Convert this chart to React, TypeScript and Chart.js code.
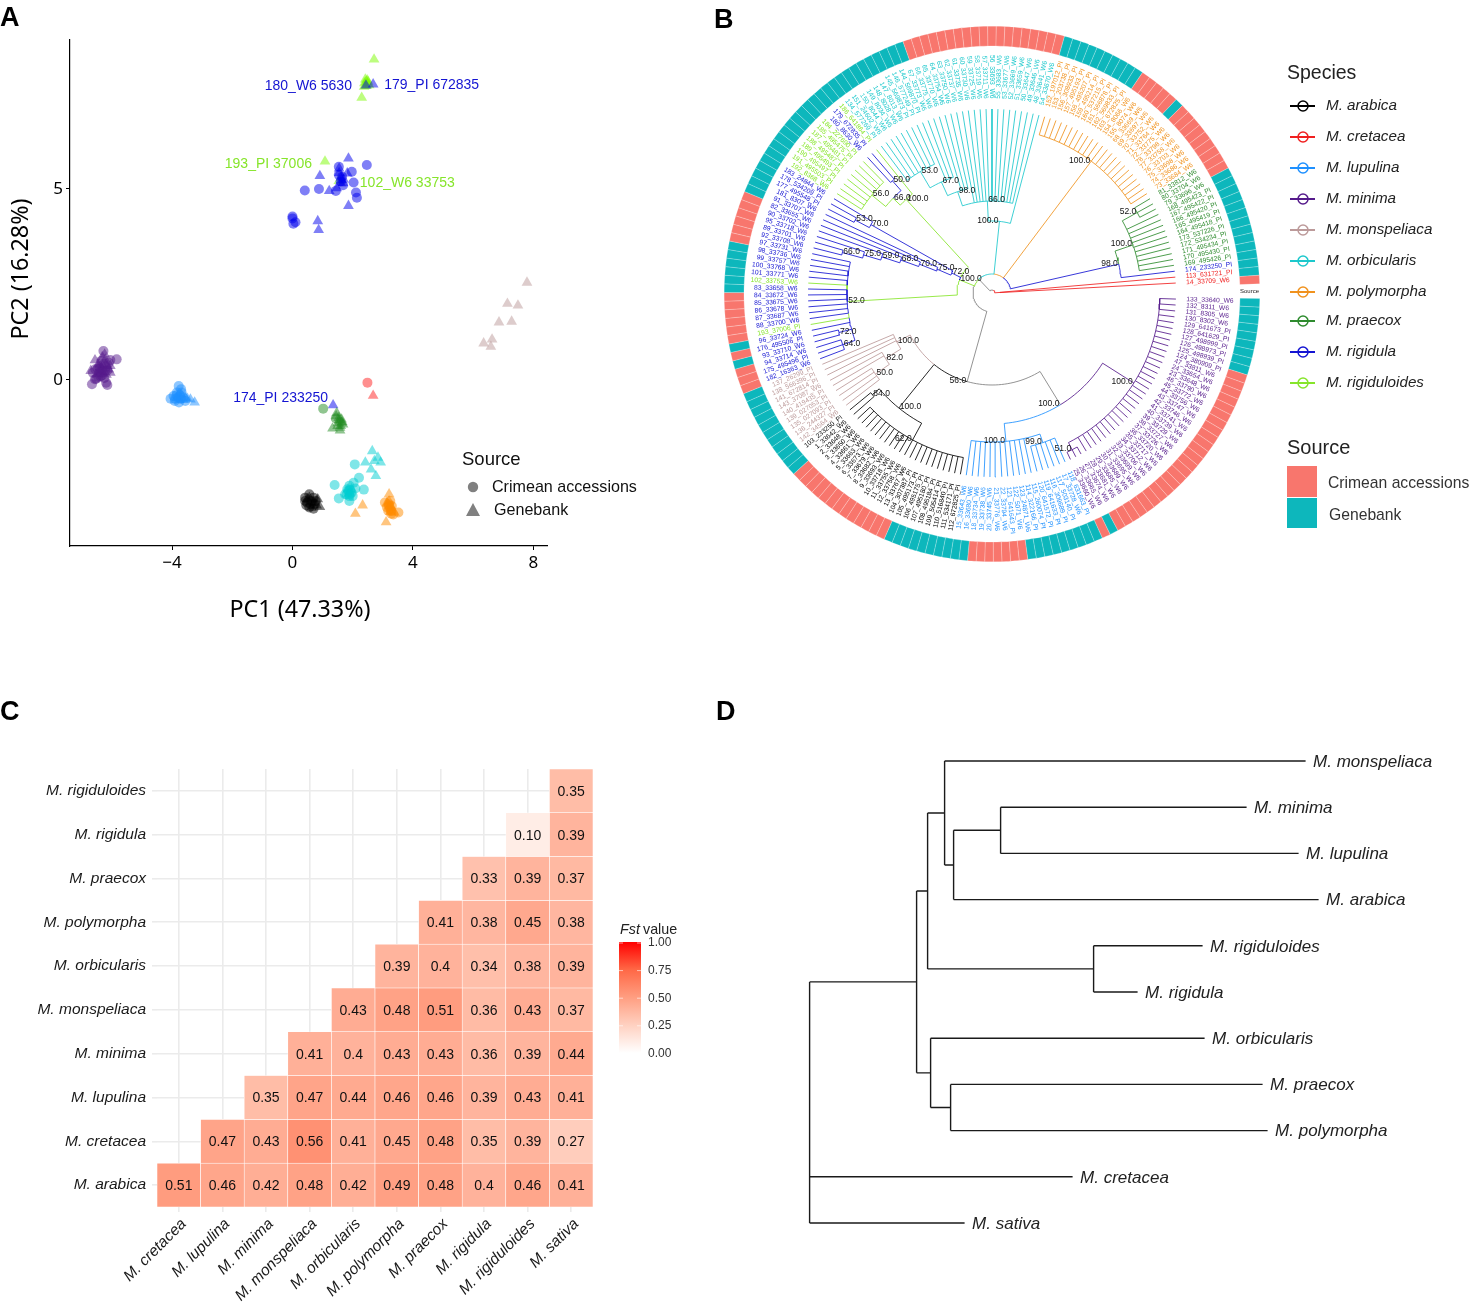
import React, { useEffect, useRef } from "react";
import { Chart, registerables } from "chart.js";

Chart.register(...registerables);

/* ---------- colours ---------- */
const BLACK = "#000000", RED = "#F02020", DODGER = "#1E90FF", PURPLE = "#551A8B", ROSY = "#BC9A9A";
const CYAN = "#1CC8CC", ORANGE = "#F0921E", GREEN = "#2E8B2E", BLUE = "#1414D2", LIME = "#86E52A", GRAY = "#808080";
const SALMON = "#F8766D", TEAL = "#0DB7BC";

/* ---------- panel A data (PC1, PC2) ---------- */
const arabicaCircles = [[.56,-2.99],[.42,-3.08],[.70,-3.08],[.49,-3.21],[.63,-3.17],[.74,-3.25],[.56,-3.34],[.46,-3.28],[.70,-3.37],[.60,-3.25],[.42,-3.17],[.77,-3.17]];
const arabicaTriangles = [[.84,-3.12],[.91,-3.32],[.56,-3.08],[.70,-3.21],[.63,-3.34],[.49,-3.12],[.80,-3.28]];
const cretaceaCircles = [[2.49,-.07]];
const cretaceaTriangles = [[2.68,-.41]];
const lupulinaCircles = [[-3.78,-.16],[-3.70,-.24],[-3.84,-.33],[-4.05,-.49],[-3.91,-.55],[-3.77,-.59],[-3.63,-.46],[-3.73,-.40],[-3.95,-.42],[-3.56,-.55],[-3.80,-.45],[-3.72,-.50],[-3.85,-.40],[-3.68,-.33],[-3.90,-.50]];
const lupulinaTriangles = [[-3.70,-.38],[-3.49,-.49],[-3.39,-.51],[-3.25,-.59],[-3.84,-.46],[-3.62,-.52],[-3.55,-.47],[-3.75,-.52]];
const minimaCircles = [[-6.28,.76],[-5.84,.54],[-6.05,.52],[-6.66,-.11],[-6.15,-.13],[-6.19,-.07],[-6.56,.02],[-6.38,.10],[-6.63,.19],[-6.47,.30],[-6.28,.41],[-6.10,.45],[-6.22,.24],[-6.35,.50],[-6.52,.03],[-6.42,.21],[-6.30,.25],[-6.40,.30],[-6.20,.35],[-6.33,.12],[-6.45,.08],[-6.25,.05],[-6.15,.25],[-6.55,.28]];
const minimaTriangles = [[-6.56,.52],[-6.24,.67],[-6.70,.24],[-6.05,.19],[-6.35,.32],[-6.22,.54],[-6.42,.41],[-6.15,.37],[-6.28,.15],[-6.05,.37],[-6.49,.15],[-6.32,.60],[-6.38,.22],[-6.18,.14],[-6.30,.38],[-6.46,.40],[-6.10,.28]];
const monspeliacaTriangles = [[7.79,2.55],[7.14,2.0],[7.49,1.95],[6.86,1.51],[7.28,1.53],[6.35,.96],[6.63,1.06],[6.59,.87]];
const orbicularisCircles = [[2.07,-2.21],[1.40,-2.75],[2.21,-2.56],[2.03,-2.69],[2.37,-2.87],[1.54,-3.10],[1.89,-3.17],[1.82,-2.86],[1.96,-2.95],[1.89,-2.77],[1.75,-2.99],[2.0,-3.04],[2.09,-2.84],[1.89,-3.04],[1.85,-2.9],[1.92,-2.88],[1.8,-3.0],[1.9,-3.0]];
const orbicularisTriangles = [[2.65,-1.86],[2.84,-2.03],[2.42,-2.16],[2.93,-2.16],[2.61,-2.34],[2.77,-2.51],[2.72,-2.12],[1.96,-2.86],[1.86,-2.99],[1.9,-2.95],[1.85,-2.85]];
const polymorphaCircles = [[3.52,-3.47],[3.07,-3.21],[3.21,-3.30],[3.28,-3.43],[3.14,-3.34],[3.35,-3.52],[3.25,-3.17],[3.2,-3.25],[3.25,-3.38],[3.3,-3.3],[3.18,-3.42],[3.28,-3.5]];
const polymorphaTriangles = [[3.21,-2.99],[2.33,-3.28],[2.09,-3.50],[3.11,-3.72],[3.21,-3.17],[3.28,-3.34],[3.14,-3.21],[3.39,-3.47],[3.22,-3.3],[3.26,-3.45]];
const praecoxCircles = [[1.02,-.75],[1.44,-1.01]];
const praecoxTriangles = [[1.47,-.86],[1.54,-.99],[1.63,-1.12],[1.33,-1.27],[1.58,-1.32],[1.51,-1.13],[1.63,-1.03],[1.68,-1.16],[1.55,-1.05],[1.6,-1.2],[1.5,-1.2],[1.58,-1.25],[1.45,-.95],[1.65,-1.1]];
const rigidulaCircles = [[2.47,5.63],[1.97,5.45],[2.03,5.17],[.41,4.96],[.88,5.0],[1.44,4.95],[2.11,4.91],[2.14,4.77],[1.54,5.58],[1.54,5.37],[1.68,5.1],[0,4.28],[0,4.23],[.1,4.13],[.03,4.09],[1.6,5.2],[1.65,5.32]];
const rigidulaTriangles = [[2.68,7.74],[2.44,7.71],[1.86,5.80],[.91,5.34],[1.22,4.95],[1.86,4.56],[.84,4.16],[.87,3.93],[1.55,5.54],[1.63,5.24],[1.68,5.15],[1.82,5.41],[1.47,5.02],[1.35,-.66],[1.62,5.3],[1.6,5.15],[1.7,5.25],[1.55,5.42]];
const rigiduloidesTriangles = [[2.71,8.39],[2.42,7.87],[2.47,7.71],[2.51,7.81],[2.39,7.77],[2.30,7.39],[1.08,5.72],[1.54,5.21],[2.45,7.8],[2.5,7.75],[2.42,7.7],[2.55,7.72],[2.48,7.85],[2.38,7.68]];
const pointLabels: [string, number, number, number, number, string, CanvasTextAlign][] = [
  ["180_W6 5630", 2.44, 7.71, -14, 1, BLUE, "right"],
  ["179_PI 672835", 2.68, 7.74, 11, 1, BLUE, "left"],
  ["193_PI 37006", 1.08, 5.72, -13, 3, LIME, "right"],
  ["102_W6 33753", 1.54, 5.21, 21, 2, LIME, "left"],
  ["174_PI 233250", 1.35, -.66, -5, -7, BLUE, "right"],
];

/* ---------- panel B data ---------- */
const cretaceaTips = ["14_33709_W6", "113_631721_PI"];
const rigidulaOutlier = ["174_233250_PI"];
const praecoxTips = ["169_495426_PI","170_495430_PI","171_495434_PI","172_534234_PI","173_537226_PI","164_495418_PI","165_495419_PI","166_495420_PI","167_495422_PI","168_495423_PI","79_33696_W6","80_33704_W6","81_33812_W6"];
const polymorphaTips = ["73_33684_W6","74_33686_W6","75_33698_W6","76_33703_W6","77_33758_W6","78_33798_W6","72_33775_W6","71_33764_W6","70_33752_W6","69_33697_W6","68_33669_W6","155_8074_W6","154_8066_W6","163_672825_PI","162_569833_PI","161_566878_PI","160_537215_PI","159_495214_PI","158_495207_PI","157_495193_PI","156_308933_PI","153_203738_PI","152_197012_PI"];
const orbicularisTips = ["54_33670_W6","48_33641_W6","49_33646_W6","50_33647_W6","51_33659_W6","52_33669_W6","53_33677_W6","55_33683_W6","56_33693_W6","57_33711_W6","58_33719_W6","59_33725_W6","60_33730_W6","61_33735_W6","62_33737_W6","63_33750_W6","64_33754_W6","65_33770_W6","66_33775_W6","67_33773_W6","144_569870_PI","146_577249_PI","145_569873_PI","147_8013_W6","148_8028_W6","149_8034_W6","150_8044_W6","151_24602_W6","134_577269_PI"];
const rigiduloidesFirst = ["186_641864_PI"];
const rigidulaPair = ["179_672835_PI","180_8630_W6"];
const rigiduloidesRest = ["184_227690_PI","185_495475_PI","187_495481_PI","188_495487_PI","189_495493_PI","190_495497_PI","191_495503_PI","192_8368_W6"];
const rigidulaA = ["183_24844_W6","178_534209_PI","177_495548_PI","181_8307_W6","91_33707_W6","82_33655_W6","90_33702_W6","95_33718_W6","89_33701_W6","92_33708_W6","97_33731_W6","98_33736_W6","99_33757_W6","100_33768_W6","101_33771_W6"];
const rigiduloidesB = ["102_33753_W6"];
const rigidulaB = ["83_33658_W6","84_33672_W6","85_33675_W6","86_33678_W6","87_33687_W6","88_33700_W6"];
const rigiduloidesC = ["193_37006_PI"];
const rigidulaC = ["96_33724_W6","176_495506_PI","93_33710_W6","94_33714_W6","175_495496_PI","182_16363_W6"];
const monspeliacaTips = ["137_26299_PI","138_566396_PI","141_672814_PI","143_37087_W6","140_419435_PI","139_027053_PI","135_027093_PI","136_244327_PI","142_34564_W6"];
const arabicaTips = ["103_233250_PI","1_33642_W6","2_33648_W6","3_33650_W6","4_33661_W6","5_33663_W6","6_33673_W6","7_33679_W6","8_33682_W6","9_33693_W6","10_33718_W6","11_33755_W6","12_33758_W6","13_33767_W6","104_307387_PI","105_495173_PI","106_495175_PI","107_495180_PI","108_495184_PI","109_505414_PI","110_516840_PI","111_534171_PI","112_672825_PI"];
const lupulinaTips = ["15_33643_W6","16_33680_W6","18_33734_W6","19_33738_W6","20_33745_W6","21_33776_W6","22_33794_W6","121_641643_PI","122_5071_W6","123_24871_W6","114_322166_PI","115_260074_PI","120_641572_PI","119_641633_PI","116_309689_PI","117_503140_PI","17_33728_W6","118_631663_PI"];
const minimaTips = ["25_33660_W6","26_33665_W6","27_33674_W6","28_33681_W6","29_33685_W6","30_33689_W6","31_33695_W6","32_33699_W6","33_33706_W6","34_33712_W6","35_33717_W6","36_33720_W6","37_33726_W6","38_33727_W6","39_33729_W6","40_33739_W6","41_33741_W6","42_33746_W6","43_33747_W6","44_33756_W6","45_33772_W6","46_33790_W6","23_33648_W6","24_33654_W6","47_33811_W6","124_380909_PI","125_498939_PI","126_498973_PI","127_498999_PI","128_641629_PI","129_641673_PI","130_8302_W6","131_8305_W6","132_8311_W6","133_33640_W6"];
const tipGroups: [string, string[]][] = [
  [RED, cretaceaTips],[BLUE, rigidulaOutlier],[GREEN, praecoxTips],[ORANGE, polymorphaTips],[CYAN, orbicularisTips],
  [LIME, rigiduloidesFirst],[BLUE, rigidulaPair],[LIME, rigiduloidesRest],[BLUE, rigidulaA],[LIME, rigiduloidesB],
  [BLUE, rigidulaB],[LIME, rigiduloidesC],[BLUE, rigidulaC],[ROSY, monspeliacaTips],[BLACK, arabicaTips],
  [DODGER, lupulinaTips],[PURPLE, minimaTips],
];
const sourceRuns: [string, number][] = [
  ["C",1],["G",13],["C",9],["G",1],["C",5],["G",10],["C",19],["G",26],["C",6],["G",6],["C",6],["G",1],["C",1],["G",1],
  ["C",3],["G",11],["C",13],["G",10],["C",7],["G",9],["C",1],["G",1],["C",24],["G",9],
];
const speciesLegend: [string, string][] = [
  ["M. arabica",BLACK],["M. cretacea",RED],["M. lupulina",DODGER],["M. minima",PURPLE],["M. monspeliaca",ROSY],
  ["M. orbicularis",CYAN],["M. polymorpha",ORANGE],["M. praecox",GREEN],["M. rigidula",BLUE],["M. rigiduloides",LIME],
];
const speciesLegendY = [105,136,167,198,229,260,291,320,351,382];

type TreeNode = { r: number; color: string; kids: (TreeNode | number)[]; support?: string; angle?: number };
const N = (r: number, color: string, kids: (TreeNode | number)[], support?: string): TreeNode => ({ r, color, kids, support });
const range = (a: number, b: number) => Array.from({ length: b - a + 1 }, (_, i) => a + i);

const praecoxClade = N(130, BLUE, [2, N(149, GREEN, [...range(3, 12), N(166, GREEN, [13, 14, 15], "52.0")], "100.0")], "98.0");
const polymorphaClade = N(165, ORANGE, range(16, 38), "100.0");
const orbicularisClade = N(72, CYAN, [39, N(92, CYAN, [...range(40, 53), N(107, CYAN, [54, 55, 56, N(122, CYAN, [57, 58, 59, N(141, CYAN, range(60, 67), "53.0")], "67.0")], "98.0")], "66.0")], "100.0");
const limeClade = N(127, LIME, [68, N(137, LIME, [N(150, BLUE, [69, 70], "50.0"), N(155, LIME, range(71, 78), "56.0")], "66.0")], "100.0");
const blueChain = N(45, BLUE, [
  N(139, BLUE, [79, N(155, BLUE, [80, 81], "53.0")], "70.0"),
  N(60, BLUE, [82, N(78, BLUE, [83, N(97, BLUE, [84, N(116, BLUE, [85, N(134, BLUE, [86, N(155, BLUE, [87, 88], "66.0")], "75.0")], "59.0")], "68.0")], "70.0")], "75.0"),
], "72.0");
const blue52 = N(145, LIME, [...range(89, 102), N(158, BLUE, [103, 104], "72.0"), N(158, BLUE, [105, 106, 107], "64.0")], "52.0");
const monspeliacaClade = N(107, ROSY, [108, 109, 110, N(125, ROSY, [111, 112, N(142, ROSY, range(113, 116), "50.0")], "82.0")], "100.0");
const arabicaClade = N(148, BLACK, [N(157, BLACK, [117, 118], "84.0"), N(167, BLACK, range(119, 139), "62.0")], "100.0");
const lupulinaClade = N(149, DODGER, [...range(140, 151), N(158, DODGER, range(152, 157), "99.0")], "100.0");
const minimaClade = N(168, PURPLE, [N(176, PURPLE, [158, 159, 160], "51.0"), ...range(161, 192)], "100.0");
const treeRoot = N(3, GRAY, [
  N(8, RED, [0, 1]),
  N(19, GRAY, [
    praecoxClade, polymorphaClade, orbicularisClade,
    N(35, LIME, [limeClade, blueChain, blue52], "100.0"),
    N(92, GRAY, [monspeliacaClade, arabicaClade, N(131, GRAY, [lupulinaClade, minimaClade], "100.0")], "56.0"),
  ]),
]);

/* ---------- panel C data ---------- */
const fstColumns = ["M. cretacea","M. lupulina","M. minima","M. monspeliaca","M. orbicularis","M. polymorpha","M. praecox","M. rigidula","M. rigiduloides","M. sativa"];
const fstRowNames = ["M. arabica","M. cretacea","M. lupulina","M. minima","M. monspeliaca","M. orbicularis","M. polymorpha","M. praecox","M. rigidula","M. rigiduloides"];
const fstArabica = ["0.51","0.46","0.42","0.48","0.42","0.49","0.48","0.4","0.46","0.41"];
const fstCretacea = ["","0.47","0.43","0.56","0.41","0.45","0.48","0.35","0.39","0.27"];
const fstLupulina = ["","","0.35","0.47","0.44","0.46","0.46","0.39","0.43","0.41"];
const fstMinima = ["","","","0.41","0.4","0.43","0.43","0.36","0.39","0.44"];
const fstMonspeliaca = ["","","","","0.43","0.48","0.51","0.36","0.43","0.37"];
const fstOrbicularis = ["","","","","","0.39","0.4","0.34","0.38","0.39"];
const fstPolymorpha = ["","","","","","","0.41","0.38","0.45","0.38"];
const fstPraecox = ["","","","","","","","0.33","0.39","0.37"];
const fstRigidula = ["","","","","","","","","0.10","0.39"];
const fstRigiduloides = ["","","","","","","","","","0.35"];
const fstRows = [fstArabica,fstCretacea,fstLupulina,fstMinima,fstMonspeliaca,fstOrbicularis,fstPolymorpha,fstPraecox,fstRigidula,fstRigiduloides];
const fstLegendTicks = ["1.00","0.75","0.50","0.25","0.00"];
const gradientStops: [number, number, number][] = [[255,255,255],[255,209,193],[255,158,129],[255,104,70],[255,0,0]];

/* ---------- panel D data: branch depths ---------- */
type DNode = { x: number; label?: string; row?: number; kids?: DNode[]; y?: number };
const leaf = (label: string, row: number, x: number): DNode => ({ label, row, x });
const node = (x: number, kids: DNode[]): DNode => ({ x, kids });
const speciesTree = node(0, [
  node(1.07, [
    node(1.18, [
      node(1.35, [leaf("M. monspeliaca", 0, 4.96), node(1.44, [node(1.91, [leaf("M. minima", 1, 4.37), leaf("M. lupulina", 2, 4.89)]), leaf("M. arabica", 3, 5.09)])]),
      node(2.84, [leaf("M. rigiduloides", 4, 3.93), leaf("M. rigidula", 5, 3.28)]),
    ]),
    node(1.21, [leaf("M. orbicularis", 6, 3.95), node(1.41, [leaf("M. praecox", 7, 4.53), leaf("M. polymorpha", 8, 4.58)])]),
  ]),
  leaf("M. cretacea", 9, 2.63),
  leaf("M. sativa", 10, 1.55),
]);

/* ---------- helpers ---------- */
function put(ctx: CanvasRenderingContext2D, s: string, x: number, y: number, font: string, color: string, align: CanvasTextAlign = "left", rot = 0) {
  ctx.save();
  ctx.font = font;
  ctx.fillStyle = color;
  ctx.textAlign = align;
  ctx.textBaseline = "middle";
  ctx.translate(x, y);
  if (rot) ctx.rotate(rot);
  ctx.fillText(s, 0, 0);
  ctx.restore();
}
const SANS = '"Liberation Sans"';
const NOTO = '"Noto Sans"';
const fstColor = (v: number) => {
  const t = Math.min(v, 0.9999) * 4, i = Math.floor(t), f = t - i;
  const a = gradientStops[i], b = gradientStops[i + 1];
  return `rgb(${a.map((c, k) => Math.round(c + (b[k] - c) * f)).join(",")})`;
};
const pts = (a: number[][]) => a.map(([x, y]) => ({ x, y }));
const makeCanvas = (left: number, top: number, w: number, h: number, ref: React.RefObject<HTMLCanvasElement | null>) => (
  <canvas ref={ref} width={w} height={h} style={{ position: "absolute", left, top, width: w, height: h, display: "block" }} />
);

/* ---------- panel builders ---------- */
function scatterConfig(): any {
  const sp = (color: string, style: string, data: number[][]) => ({
    data: pts(data), pointStyle: style, backgroundColor: color + "80", borderColor: "transparent", borderWidth: 0,
    pointRadius: style === "circle" ? 5 : 6.2, showLine: false,
  });
  const datasets = [
    sp(PURPLE, "circle", minimaCircles), sp(PURPLE, "triangle", minimaTriangles),
    sp(ROSY, "triangle", monspeliacaTriangles),
    sp(DODGER, "circle", lupulinaCircles), sp(DODGER, "triangle", lupulinaTriangles),
    sp("#228B22", "circle", praecoxCircles), sp("#228B22", "triangle", praecoxTriangles),
    sp("#FF2020", "circle", cretaceaCircles), sp("#FF2020", "triangle", cretaceaTriangles),
    sp("#00CED1", "circle", orbicularisCircles), sp("#00CED1", "triangle", orbicularisTriangles),
    sp("#000000", "circle", arabicaCircles), sp("#000000", "triangle", arabicaTriangles),
    sp("#FF8C00", "circle", polymorphaCircles), sp("#FF8C00", "triangle", polymorphaTriangles),
    sp("#0000EE", "circle", rigidulaCircles), sp("#0000EE", "triangle", rigidulaTriangles),
    sp("#7CFC00", "triangle", rigiduloidesTriangles),
  ];
  const axisFont = { family: NOTO, size: 17 };
  return {
    type: "scatter",
    data: { datasets },
    options: {
      animation: false, responsive: false, maintainAspectRatio: false,
      layout: { padding: { left: 0, top: 40, right: 153, bottom: 0 } },
      plugins: { legend: { display: false }, tooltip: { enabled: false } },
      scales: {
        x: {
          type: "linear", min: -7.39, max: 8.455,
          afterFit: (s: any) => { s.height = 104; },
          border: { color: "#000", width: 1.2 },
          grid: { drawOnChartArea: false, tickLength: 4, tickColor: "#000" },
          ticks: { stepSize: 4, includeBounds: false, color: "#000", font: axisFont, padding: 3, maxRotation: 0,
            callback: (v: number) => String(v).replace("-", "\u2212") },
        },
        y: {
          type: "linear", min: -4.346, max: 8.9,
          afterFit: (s: any) => { s.width = 70; },
          border: { color: "#000", width: 1.2 },
          grid: { drawOnChartArea: false, tickLength: 4, tickColor: "#000" },
          ticks: { stepSize: 5, includeBounds: false, color: "#000", font: axisFont, padding: 3 },
        },
      },
    },
    plugins: [{
      id: "panelA",
      afterDraw(c: any) {
        const ctx = c.ctx;
        put(ctx, "A", 0, 19, `bold 27px ${SANS}`, "#000");
        put(ctx, "PC1 (47.33%)", 300, 610, `23.3px ${NOTO}`, "#000", "center");
        put(ctx, "PC2 (16.28%)", 21, 269, `23.3px ${NOTO}`, "#000", "center", -Math.PI / 2);
        pointLabels.forEach(([t, x, y, dx, dy, col, al]) =>
          put(ctx, t, c.scales.x.getPixelForValue(x) + dx, c.scales.y.getPixelForValue(y) + dy, `14px ${SANS}`, col, al));
        put(ctx, "Source", 462, 460, `18.5px ${SANS}`, "#111");
        put(ctx, "Crimean accessions", 492, 488, `16.1px ${SANS}`, "#111");
        put(ctx, "Genebank", 494, 511, `16.1px ${SANS}`, "#111");
        ctx.fillStyle = "#808080";
        ctx.beginPath(); ctx.arc(473, 487, 5.2, 0, 7); ctx.fill();
        ctx.beginPath(); ctx.moveTo(473, 503); ctx.lineTo(480, 516); ctx.lineTo(466, 516); ctx.closePath(); ctx.fill();
      },
    }],
  };
}

const TIP_START = 3.1, TIP_STEP = 1.849, TIP_R = 184, LABEL_R = 194.5, RING_GAP = 1.7;
const allTips = tipGroups.flatMap(([color, names]) => names.map((name) => ({ color, name })));

function ringConfig(): any {
  const cells = sourceRuns.flatMap(([s, n]) => Array.from({ length: n }, () => (s === "C" ? SALMON : TEAL)));
  return {
    type: "doughnut",
    data: { datasets: [{
      data: [RING_GAP, ...cells.map(() => 1)],
      backgroundColor: ["rgba(255,255,255,0)", ...cells.slice().reverse()],
      borderColor: "rgba(255,255,255,0.75)", borderWidth: 0.3,
    }] },
    options: {
      animation: false, responsive: false, maintainAspectRatio: false, cutout: 248,
      rotation: 90 - (TIP_START - TIP_STEP / 2),
      plugins: { legend: { display: false }, tooltip: { enabled: false } },
    },
  };
}

function treeConfig(): any {
  const polar = (r: number, deg: number) => ({ x: r * Math.cos(deg * Math.PI / 180), y: r * Math.sin(deg * Math.PI / 180) });
  const segs: Record<string, any[]> = {};
  const add = (color: string, list: any[]) => { (segs[color] ||= []).push(...list, { x: null, y: null }); };
  const tipAngle = (i: number) => TIP_START + i * TIP_STEP;
  const supports: { t: string; r: number; a: number }[] = [];
  const layout = (n: TreeNode | number): number => {
    if (typeof n === "number") return tipAngle(n);
    const angles = n.kids.map(layout);
    const mid = (angles[0] + angles[angles.length - 1]) / 2;
    n.angle = mid;
    n.kids.forEach((k, i) => {
      const a = angles[i];
      const col = typeof k === "number" ? allTips[k].color : k.color;
      const kr = typeof k === "number" ? TIP_R : k.r;
      // each child draws its stem, then the arc only as far as its neighbour toward the parent's angle,
      // so that no stretch of arc is stroked twice
      const end = a < mid ? Math.min(angles[i + 1], mid) : a > mid ? Math.max(angles[i - 1], mid) : a;
      const line: any[] = [polar(kr, a)];
      const steps = Math.max(1, Math.ceil(Math.abs(end - a) / 2));
      for (let s = 0; s <= steps; s++) line.push(polar(n.r, a + ((end - a) * s) / steps));
      add(col, line);
    });
    if (n.support) supports.push({ t: n.support, r: n.r, a: mid });
    return mid;
  };
  layout(treeRoot);
  const datasets = Object.entries(segs).map(([color, data]) => ({
    data, borderColor: color, borderWidth: 0.85, pointRadius: 0, showLine: true, spanGaps: false, fill: false, tension: 0,
  }));
  return {
    type: "scatter",
    data: { datasets },
    options: {
      animation: false, responsive: false, maintainAspectRatio: false,
      layout: { padding: 0 },
      plugins: { legend: { display: false }, tooltip: { enabled: false } },
      scales: {
        x: { type: "linear", display: false, min: -292, max: 482 },
        y: { type: "linear", display: false, min: -297, max: 293 },
      },
    },
    plugins: [{
      id: "panelB",
      afterDraw(c: any) {
        const ctx = c.ctx;
        const px = (p: { x: number; y: number }) => [c.scales.x.getPixelForValue(p.x), c.scales.y.getPixelForValue(p.y)];
        allTips.forEach((tip, i) => {
          const a = tipAngle(i);
          const [x, y] = px(polar(LABEL_R, a));
          const right = Math.cos(a * Math.PI / 180) >= 0;
          const rot = (-a * Math.PI) / 180 + (right ? 0 : Math.PI);
          put(ctx, tip.name, x, y, `6.7px ${SANS}`, tip.color, right ? "left" : "right", rot);
        });
        supports.forEach((s) => {
          const [x, y] = px(polar(s.r, s.a));
          const left = s.a > 90 && s.a < 240;
          put(ctx, s.t, x + (left ? 1 : -1), y - 1, `8.5px ${SANS}`, "#111", left ? "left" : "right");
        });
        put(ctx, "B", 14, 21, `bold 27px ${SANS}`, "#000");
        put(ctx, "Source", 540, 291, `6px ${SANS}`, "#222", "left");
        put(ctx, "Species", 587, 74, `19.5px ${SANS}`, "#222");
        speciesLegend.forEach(([name, col], i) => {
          const ly = speciesLegendY[i];
          ctx.strokeStyle = col; ctx.lineWidth = 2;
          ctx.beginPath(); ctx.moveTo(590, ly + 1); ctx.lineTo(615, ly + 1); ctx.stroke();
          ctx.lineWidth = 1.5;
          ctx.beginPath(); ctx.arc(603, ly + 1, 5, 0, 7); ctx.stroke();
          put(ctx, name, 626, ly + 1, `italic 15.2px ${SANS}`, "#222");
        });
        put(ctx, "Source", 587, 448, `20px ${SANS}`, "#222");
        ctx.fillStyle = SALMON; ctx.fillRect(587, 466, 30, 31);
        ctx.fillStyle = TEAL; ctx.fillRect(587, 498, 30, 30);
        put(ctx, "Crimean accessions", 628, 484, `15.7px ${SANS}`, "#333");
        put(ctx, "Genebank", 629, 516, `15.7px ${SANS}`, "#333");
      },
    }],
  };
}

function heatConfig(): any {
  const datasets = fstRows.map((row, r) => ({
    data: row.map((v) => (v === "" ? null : [r, r + 1])),
    backgroundColor: row.map((v) => (v === "" ? "transparent" : fstColor(parseFloat(v)))),
    borderColor: "#ffffff", borderWidth: 0.6, borderSkipped: false,
    barPercentage: 1, categoryPercentage: 1,
  }));
  const grid = { color: "#EBEBEB", lineWidth: 1.6, tickLength: 5, tickColor: "#EBEBEB" };
  const labelFont = { family: SANS, size: 15.5, style: "italic" as const };
  return {
    type: "bar",
    data: { labels: fstColumns, datasets },
    options: {
      animation: false, responsive: false, maintainAspectRatio: false,
      layout: { padding: { left: 0, top: 79, right: 107, bottom: 0 } },
      plugins: { legend: { display: false }, tooltip: { enabled: false } },
      scales: {
        x: {
          type: "category", stacked: true,
          afterFit: (s: any) => { s.height = 100; },
          border: { display: false },
          grid: { ...grid, offset: false },
          ticks: { minRotation: 45, maxRotation: 45, autoSkip: false, color: "#1a1a1a", font: labelFont, padding: 3, labelOffset: 5 },
        },
        y: {
          type: "linear", min: 0, max: 10,
          afterFit: (s: any) => { s.width = 157; },
          afterBuildTicks: (s: any) => { s.ticks = fstRowNames.map((_, i) => ({ value: i + 0.5 })); },
          border: { display: false },
          grid,
          ticks: { autoSkip: false, color: "#1a1a1a", font: labelFont, padding: 6,
            callback: (v: number) => fstRowNames[Math.floor(v)] },
        },
      },
    },
    plugins: [{
      id: "panelC",
      afterDraw(c: any) {
        const ctx = c.ctx;
        const { x, y } = c.scales;
        fstRows.forEach((row, r) => row.forEach((v, col) => {
          if (v) put(ctx, v, x.getPixelForValue(col), y.getPixelForValue(r + 0.5) + 1, `14px ${SANS}`, "#111", "center");
        }));
        put(ctx, "C", 0, 23, `bold 27px ${SANS}`, "#000");
        put(ctx, "Fst", 620, 240, `italic 14.3px ${SANS}`, "#222");
        put(ctx, "value", 643, 240, `14.3px ${SANS}`, "#222");
        const g = ctx.createLinearGradient(0, 252, 0, 363);
        gradientStops.slice().reverse().forEach((s, i) => g.addColorStop(i / 4, `rgb(${s.join(",")})`));
        ctx.fillStyle = g;
        ctx.fillRect(619, 252, 22, 111);
        fstLegendTicks.forEach((t, i) => {
          const ly = 253 + i * 27.6;
          put(ctx, t, 648, ly, `12px ${SANS}`, "#333");
          ctx.strokeStyle = "#fff"; ctx.lineWidth = 0.6;
          ctx.beginPath(); ctx.moveTo(619, ly); ctx.lineTo(623, ly); ctx.moveTo(637, ly); ctx.lineTo(641, ly); ctx.stroke();
        });
      },
    }],
  };
}

function dendroConfig(): any {
  const seg: any[] = [];
  const leaves: DNode[] = [];
  const walk = (n: DNode): number => {
    if (!n.kids) { n.y = n.row; leaves.push(n); return n.y!; }
    const ys = n.kids.map(walk);
    n.y = (ys[0] + ys[ys.length - 1]) / 2;
    if (n.x === 0) n.y = ys[0];
    seg.push({ x: n.x, y: ys[0] }, { x: n.x, y: ys[ys.length - 1] }, { x: null, y: null });
    n.kids.forEach((k, i) => seg.push({ x: n.x, y: ys[i] }, { x: k.x, y: ys[i] }, { x: null, y: null }));
    return n.y!;
  };
  walk(speciesTree);
  return {
    type: "scatter",
    data: { datasets: [{ data: seg, borderColor: "#1a1a1a", borderWidth: 1.4, pointRadius: 0, showLine: true, spanGaps: false, tension: 0 }] },
    options: {
      animation: false, responsive: false, maintainAspectRatio: false,
      layout: { padding: 0 },
      plugins: { legend: { display: false }, tooltip: { enabled: false } },
      scales: {
        x: { type: "linear", display: false, min: -1.096, max: 6.644 },
        y: { type: "linear", display: false, reverse: true, min: -1.537, max: 11.45 },
      },
    },
    plugins: [{
      id: "panelD",
      afterDraw(c: any) {
        const ctx = c.ctx;
        leaves.forEach((l) => put(ctx, l.label!, c.scales.x.getPixelForValue(l.x) + 7.5, c.scales.y.getPixelForValue(l.y!) + 1, `italic 17px ${SANS}`, "#222"));
        put(ctx, "D", 16, 23, `bold 27px ${SANS}`, "#000");
      },
    }],
  };
}

export default function App() {
  const a = useRef<HTMLCanvasElement>(null);
  const ring = useRef<HTMLCanvasElement>(null);
  const tree = useRef<HTMLCanvasElement>(null);
  const c = useRef<HTMLCanvasElement>(null);
  const d = useRef<HTMLCanvasElement>(null);
  useEffect(() => {
    const charts = [
      new Chart(a.current!, scatterConfig()),
      new Chart(ring.current!, ringConfig()),
      new Chart(tree.current!, treeConfig()),
      new Chart(c.current!, heatConfig()),
      new Chart(d.current!, dendroConfig()),
    ];
    return () => charts.forEach((ch) => ch.destroy());
  }, []);
  return (
    <div style={{ position: "absolute", left: 0, top: 0, width: 1474, height: 1307, background: "#fff", overflow: "hidden" }}>
      {makeCanvas(0, 0, 700, 650, a)}
      {makeCanvas(724, 26, 536, 536, ring)}
      {makeCanvas(700, 0, 774, 590, tree)}
      {makeCanvas(0, 690, 700, 617, c)}
      {makeCanvas(700, 690, 774, 600, d)}
    </div>
  );
}
